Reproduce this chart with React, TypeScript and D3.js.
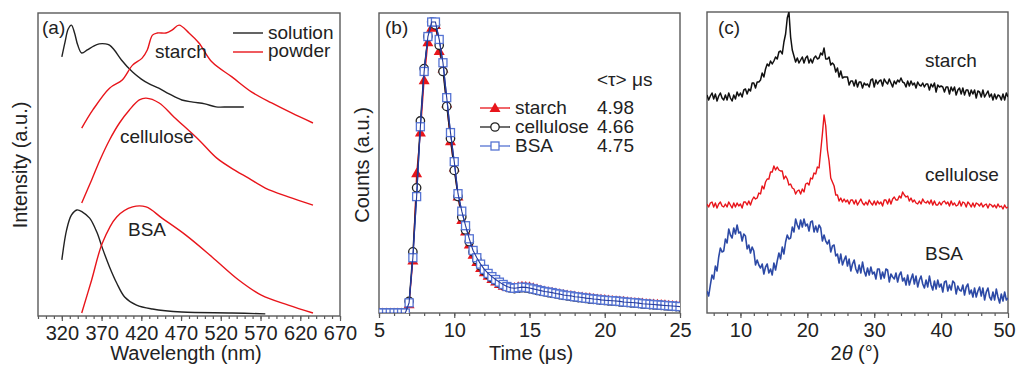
import React, { useEffect, useRef } from 'react';
import * as d3 from 'd3';

// ---- (a) photoluminescence spectra ----
const starchSolWl = [320, 324, 328, 332, 336, 340, 345, 352, 360, 367, 375, 380, 386, 395, 409, 420, 430, 442, 455, 471, 485, 500, 514, 530, 549];
const starchSolI = [85.5, 90.4, 94.7, 96, 93.4, 89.4, 86.8, 87.8, 89.1, 89.8, 89.8, 89.4, 87.8, 84.5, 80.5, 78.2, 76.6, 75.2, 73.3, 71.3, 70.6, 70, 69, 69, 69];

const starchPowWl = [345, 359, 380, 396, 409, 421, 427.5, 434, 440, 451, 459, 467.5, 480, 492.5, 509, 534, 559, 584, 609, 636];
const starchPowI = [62, 68, 75.2, 77.9, 82.8, 85.1, 87.8, 92.7, 93.4, 93.4, 94.4, 96, 93.4, 90.1, 83.8, 78.9, 73.9, 70.3, 67, 63.7];

const cellPowWl = [345, 357.5, 368, 380, 392.5, 405, 417.5, 426, 442.5, 461, 492.5, 515, 539, 555, 576, 605, 636];
const cellPowI = [37.3, 44.9, 51.5, 58.1, 63.7, 68, 71.3, 71.9, 70.3, 65.7, 58.1, 52.1, 47.9, 45.5, 42.2, 39.3, 36.6];

const bsaSolWl = [320, 326, 332, 339, 346, 355, 364, 371, 380, 389, 399, 414, 434, 471, 534, 576];
const bsaSolI = [18.5, 28.4, 33.3, 35, 34.3, 32.3, 27.7, 22.4, 16.2, 10.9, 6.3, 3.6, 2.3, 1.3, 1.0, 0.7];

const bsaPowWl = [345, 357.5, 371, 389, 409, 426, 446, 476, 509, 542.5, 571, 605, 636];
const bsaPowI = [1, 11.9, 24.1, 32.7, 36, 36, 32.3, 26.7, 19.5, 11.9, 6.9, 3.6, 1];

const wlMajor = [320, 370, 420, 470, 520, 570, 620, 670];

// ---- (b) decay curves, one value every 0.25 us from 5 to 25 us ----
const timeStep = 0.25;
const starchCounts = [
  0, 0, 0, 0, 0, 0, 0, 0,
  0.03, 0.18, 0.48, 0.62, 0.80, 0.93, 0.98, 0.99,
  0.90, 0.84, 0.72, 0.59, 0.50, 0.40, 0.32, 0.28,
  0.235, 0.20, 0.175, 0.155, 0.14, 0.128, 0.117, 0.108,
  0.100, 0.094, 0.090, 0.088, 0.088, 0.090, 0.092, 0.091,
  0.090, 0.087, 0.083, 0.079, 0.076, 0.073, 0.071, 0.069,
  0.066, 0.064, 0.062, 0.060, 0.058, 0.056, 0.055, 0.053,
  0.052, 0.050, 0.048, 0.047, 0.046, 0.045, 0.043, 0.042,
  0.041, 0.040, 0.039, 0.037, 0.036, 0.035, 0.034, 0.033,
  0.032, 0.031, 0.030, 0.029, 0.028, 0.027, 0.026, 0.025,
  0.024,
];
const celluloseCounts = [
  0, 0, 0, 0, 0, 0, 0, 0,
  0.04, 0.21, 0.43, 0.66, 0.84, 0.95, 1.0, 0.99,
  0.92, 0.83, 0.71, 0.60, 0.49, 0.40, 0.33, 0.285,
  0.245, 0.21, 0.183, 0.162, 0.145, 0.132, 0.121, 0.112,
  0.103, 0.096, 0.090, 0.086, 0.084, 0.085, 0.087, 0.086,
  0.084, 0.081, 0.078, 0.075, 0.073, 0.070, 0.068, 0.066,
  0.063, 0.061, 0.059, 0.057, 0.055, 0.053, 0.052, 0.050,
  0.048, 0.047, 0.046, 0.044, 0.043, 0.042, 0.041, 0.040,
  0.038, 0.037, 0.036, 0.035, 0.034, 0.033, 0.031, 0.030,
  0.029, 0.028, 0.027, 0.026, 0.025, 0.024, 0.023, 0.022,
  0.021,
];
const bsaCounts = [
  0, 0, 0, 0, 0, 0, 0, 0,
  0.035, 0.19, 0.40, 0.64, 0.83, 0.95, 1.0, 1.0,
  0.94, 0.86, 0.74, 0.62, 0.52, 0.41, 0.35, 0.30,
  0.255, 0.215, 0.19, 0.168, 0.15, 0.136, 0.125, 0.115,
  0.106, 0.098, 0.091, 0.087, 0.085, 0.087, 0.089, 0.088,
  0.086, 0.083, 0.080, 0.077, 0.074, 0.072, 0.070, 0.067,
  0.065, 0.062, 0.060, 0.059, 0.056, 0.055, 0.053, 0.051,
  0.050, 0.048, 0.047, 0.045, 0.044, 0.043, 0.042, 0.041,
  0.040, 0.038, 0.037, 0.036, 0.035, 0.034, 0.032, 0.031,
  0.030, 0.029, 0.028, 0.027, 0.026, 0.025, 0.024, 0.023,
  0.022,
];
const decayNames = ['starch', 'cellulose', 'BSA'];
const lifetimes = ['4.98', '4.66', '4.75'];

// ---- (c) XRD, one value every 0.25 deg from 5 to 50 (one degree per row) ----
const thetaStep = 0.25;
const starchXrd = [
  218, 213, 217, 220, 214, 219, 212, 217, 220, 215, 213, 218, 213, 220, 215, 212,
  218, 214, 221, 217, 220, 216, 223, 224, 219, 224, 222, 230, 230, 225, 231, 231,
  233, 240, 236, 244, 249, 247, 252, 249, 252, 256, 254, 261, 262, 259, 271, 279,
  295, 301, 276, 263, 257, 251, 255, 250, 253, 256, 250, 255, 257, 250, 254, 250,
  255, 257, 254, 255, 260, 258, 265, 254, 254, 256, 248, 250, 248, 241, 245, 236,
  242, 235, 236, 236, 236, 228, 232, 232, 227, 233, 226, 231, 231, 225, 230, 228,
  229, 226, 233, 234, 226, 233, 229, 232, 233, 227, 234, 231, 229, 234, 230, 226,
  232, 229, 233, 231, 235, 231, 230, 226, 232, 227, 232, 228, 230, 225, 231, 228,
  227, 230, 226, 229, 229, 223, 229, 226, 230, 221, 228, 226, 227, 226, 221, 226,
  226, 219, 226, 222, 226, 218, 223, 225, 219, 225, 218, 223, 223, 217, 223, 219,
  223, 215, 222, 221, 216, 223, 216, 219, 222, 216, 219, 213, 219, 214, 218, 217,
  213, 219, 213, 220,
  216,
];
const celluloseXrd = [
  109, 106, 110, 111, 106, 110, 105, 109, 111, 107, 106, 109, 106, 111, 108, 105,
  110, 106, 110, 107, 109, 105, 111, 111, 108, 112, 108, 113, 116, 114, 115, 120,
  119, 127, 124, 131, 134, 134, 141, 141, 147, 143, 146, 143, 142, 142, 134, 137,
  134, 128, 129, 125, 124, 119, 122, 123, 119, 124, 121, 129, 130, 128, 135, 134,
  140, 139, 146, 145, 162, 179, 198, 187, 163, 152, 135, 131, 127, 118, 118, 112,
  115, 111, 114, 111, 113, 109, 113, 113, 109, 113, 108, 111, 114, 110, 108, 111,
  108, 113, 110, 108, 112, 108, 112, 109, 111, 107, 113, 113, 109, 114, 109, 114,
  116, 113, 113, 117, 115, 121, 118, 116, 117, 112, 115, 111, 113, 110, 109, 112,
  109, 114, 111, 110, 112, 109, 113, 108, 112, 108, 108, 111, 108, 111, 112, 109,
  111, 107, 112, 108, 110, 107, 108, 112, 107, 111, 110, 106, 111, 109, 106, 110,
  106, 110, 109, 107, 110, 106, 108, 109, 105, 109, 108, 106, 108, 105, 109, 106,
  107, 104, 108, 105,
  106,
];
const bsaXrd = [
  22, 17, 28, 38, 34, 47, 42, 56, 65, 61, 62, 74, 70, 84, 78, 75,
  85, 79, 88, 80, 81, 72, 79, 77, 64, 68, 60, 66, 62, 48, 53, 48,
  45, 49, 39, 46, 49, 40, 44, 38, 50, 43, 52, 60, 54, 66, 59, 71,
  78, 74, 75, 86, 81, 94, 88, 84, 93, 86, 94, 87, 89, 82, 91, 92,
  81, 87, 81, 88, 85, 72, 78, 72, 69, 73, 61, 67, 68, 57, 59, 50,
  59, 48, 53, 57, 47, 54, 42, 49, 53, 44, 40, 48, 40, 51, 42, 37,
  45, 38, 46, 39, 41, 34, 44, 44, 34, 41, 35, 44, 43, 31, 39, 36,
  34, 40, 31, 38, 41, 32, 35, 28, 38, 28, 34, 39, 29, 37, 26, 33,
  37, 29, 25, 33, 26, 37, 28, 23, 32, 24, 33, 26, 29, 21, 31, 32,
  22, 28, 23, 32, 30, 19, 27, 23, 22, 28, 18, 26, 29, 19, 23, 16,
  25, 16, 22, 26, 17, 25, 13, 21, 25, 16, 13, 21, 13, 24, 16, 10,
  19, 12, 21, 13,
  15,
];

const FONT = '"Liberation Sans", Arial, Helvetica, sans-serif';
const TXT = '#222';
const FRAME = '#5a5a5a';
const RED = '#e8151b';
const BLUE = '#5573d3';
const NAVY = '#243a9c';

const App = () => {
  const svgRef = useRef<SVGSVGElement>(null);

  useEffect(() => {
    const svg = d3.select(svgRef.current);
    svg.selectAll('*').remove();

    const text = (x: number, y: number, s: string, anchor = 'start', size = 19) =>
      svg.append('text')
        .attr('x', x).attr('y', y)
        .attr('text-anchor', anchor)
        .attr('font-family', FONT)
        .attr('font-size', size)
        .attr('fill', TXT)
        .text(s);

    const frame = (id: string, x0: number, y0: number, x1: number, y1: number) => {
      svg.append('clipPath').attr('id', id)
        .append('rect').attr('x', x0).attr('y', y0).attr('width', x1 - x0).attr('height', y1 - y0);
      svg.append('rect')
        .attr('x', x0).attr('y', y0).attr('width', x1 - x0).attr('height', y1 - y0)
        .attr('fill', 'none').attr('stroke', FRAME).attr('stroke-width', 1.4);
    };

    const bottomAxis = (x: d3.ScaleLinear<number, number>, y0: number, minor: number[], major: number[]) => {
      svg.append('g')
        .attr('transform', `translate(0,${y0})`)
        .call(d3.axisBottom(x).tickValues(minor).tickSize(3).tickFormat(() => ''))
        .call(g => g.select('.domain').remove())
        .call(g => g.selectAll('line').attr('stroke', FRAME).attr('stroke-width', 1.2));
      return svg.append('g')
        .attr('transform', `translate(0,${y0})`)
        .call(d3.axisBottom(x).tickValues(major).tickSize(5).tickPadding(5).tickFormat(d3.format('d')))
        .call(g => g.select('.domain').remove())
        .call(g => g.selectAll('line').attr('stroke', FRAME).attr('stroke-width', 1.2))
        .call(g => g.selectAll('text').attr('font-family', FONT).attr('font-size', 20).attr('fill', TXT));
    };

    const yTitle = (x: number, y: number, s: string) =>
      text(0, 0, s, 'middle', 20).attr('transform', `translate(${x},${y}) rotate(-90)`);

    // ================= (a) =================
    const ax = d3.scaleLinear().domain([290, 670]).range([38, 340]);
    const ay = d3.scaleLinear().domain([0, 100]).range([316, 13]);
    frame('clipA', 38, 13, 340, 316);
    bottomAxis(ax, 316, d3.range(290, 671, 10), wlMajor);

    const spec = (wl: number[], inten: number[], color: string) => {
      const line = d3.line<number>()
        .x((_, i) => ax(wl[i]))
        .y(d => ay(d))
        .curve(d3.curveCatmullRom.alpha(0.5));
      svg.append('path')
        .attr('d', line(inten))
        .attr('fill', 'none')
        .attr('stroke', color)
        .attr('stroke-width', 1.4)
        .attr('clip-path', 'url(#clipA)');
    };
    spec(starchSolWl, starchSolI, '#222');
    spec(starchPowWl, starchPowI, RED);
    spec(cellPowWl, cellPowI, RED);
    spec(bsaSolWl, bsaSolI, '#222');
    spec(bsaPowWl, bsaPowI, RED);

    text(42, 34, '(a)');
    text(155, 58, 'starch');
    text(120, 143, 'cellulose');
    text(128, 236, 'BSA');
    svg.append('line').attr('x1', 233).attr('x2', 263).attr('y1', 33).attr('y2', 33)
      .attr('stroke', '#222').attr('stroke-width', 1.4);
    text(268, 39, 'solution');
    svg.append('line').attr('x1', 233).attr('x2', 263).attr('y1', 52).attr('y2', 52)
      .attr('stroke', RED).attr('stroke-width', 1.4);
    text(268, 57, 'powder');
    text(186, 360, 'Wavelength (nm)', 'middle', 20);
    yTitle(27, 165, 'Intensity (a.u.)');

    // ================= (b) =================
    const bx = d3.scaleLinear().domain([5, 25]).range([379, 680]);
    const by = d3.scaleLinear().domain([0, 1]).range([313, 22]);
    frame('clipB', 379, 13, 680, 313);
    bottomAxis(bx, 313, d3.range(5, 25.01, 1), [5, 10, 15, 20, 25]);

    const decaySeries = [
      { counts: starchCounts, line: RED, mark: 'tri' },
      { counts: celluloseCounts, line: '#222', mark: 'circ' },
      { counts: bsaCounts, line: NAVY, mark: 'sq' },
    ];
    const tri = 'M0,-5.5L5.5,4L-5.5,4Z';
    const drawMark = (g: d3.Selection<SVGGElement, unknown, null, undefined>, kind: string, x: number, y: number) => {
      if (kind === 'tri') {
        g.append('path').attr('d', tri).attr('transform', `translate(${x},${y})`).attr('fill', RED);
      } else if (kind === 'circ') {
        g.append('circle').attr('cx', x).attr('cy', y).attr('r', 4.2)
          .attr('fill', '#fff').attr('stroke', '#222').attr('stroke-width', 1.3);
      } else {
        g.append('rect').attr('x', x - 4).attr('y', y - 4).attr('width', 8).attr('height', 8)
          .attr('fill', '#fff').attr('stroke', BLUE).attr('stroke-width', 1.3);
      }
    };

    decaySeries.forEach(s => {
      const g = svg.append('g').attr('clip-path', 'url(#clipB)');
      const line = d3.line<number>()
        .x((_, i) => bx(5 + i * timeStep))
        .y(d => by(d));
      g.append('path').attr('d', line(s.counts))
        .attr('fill', 'none').attr('stroke', s.line).attr('stroke-width', 1.2);
      s.counts.forEach((c, i) => drawMark(g, s.mark, bx(5 + i * timeStep), by(c)));
    });
    // BSA connecting line drawn again on top
    svg.append('path')
      .attr('d', d3.line<number>().x((_, i) => bx(5 + i * timeStep)).y(d => by(d))(bsaCounts))
      .attr('fill', 'none').attr('stroke', NAVY).attr('stroke-width', 1.1)
      .attr('clip-path', 'url(#clipB)');

    text(385, 34, '(b)');
    text(597, 86, '<τ> μs');
    decaySeries.forEach((s, i) => {
      const yb = 114 + i * 19;
      const g = svg.append('g');
      g.append('line').attr('x1', 480).attr('x2', 510).attr('y1', yb - 6).attr('y2', yb - 6)
        .attr('stroke', s.mark === 'sq' ? BLUE : s.line).attr('stroke-width', 1.3);
      drawMark(g, s.mark, 495, yb - 6);
      text(515, yb, decayNames[i]);
      text(597, yb, lifetimes[i]);
    });
    text(531, 360, 'Time (μs)', 'middle', 20);
    yTitle(369, 165, 'Counts (a.u.)');

    // ================= (c) =================
    const cx = d3.scaleLinear().domain([5, 50]).range([707, 1008]);
    const cy = d3.scaleLinear().domain([0, 301]).range([313, 12]);
    frame('clipC', 707, 12, 1008, 313);
    const cAxis = bottomAxis(cx, 313, d3.range(6, 50, 2), [10, 20, 30, 40, 50]);
    cAxis.selectAll('text').filter((d: any) => d === 50).attr('dx', -4);

    const xrd = (vals: number[], color: string, w: number) => {
      const line = d3.line<number>()
        .x((_, i) => cx(5 + i * thetaStep))
        .y(d => cy(d));
      svg.append('path').attr('d', line(vals))
        .attr('fill', 'none').attr('stroke', color).attr('stroke-width', w)
        .attr('stroke-linejoin', 'round')
        .attr('clip-path', 'url(#clipC)');
    };
    xrd(starchXrd, '#111', 1.5);
    xrd(celluloseXrd, RED, 1.4);
    xrd(bsaXrd, '#2d4aa6', 1.6);

    text(718, 34, '(c)');
    text(925, 67, 'starch');
    text(925, 181, 'cellulose');
    text(925, 260, 'BSA');
    const xl = svg.append('text')
      .attr('x', 855).attr('y', 360).attr('text-anchor', 'middle')
      .attr('font-family', FONT).attr('font-size', 20).attr('fill', TXT);
    xl.append('tspan').text('2');
    xl.append('tspan').attr('font-style', 'italic').text('θ');
    xl.append('tspan').text(' (°)');
  }, []);

  return (
    <svg
      ref={svgRef}
      width={1017}
      height={365}
      style={{ position: 'absolute', left: 0, top: 0, background: '#fff' }}
    />
  );
};

export default App;
